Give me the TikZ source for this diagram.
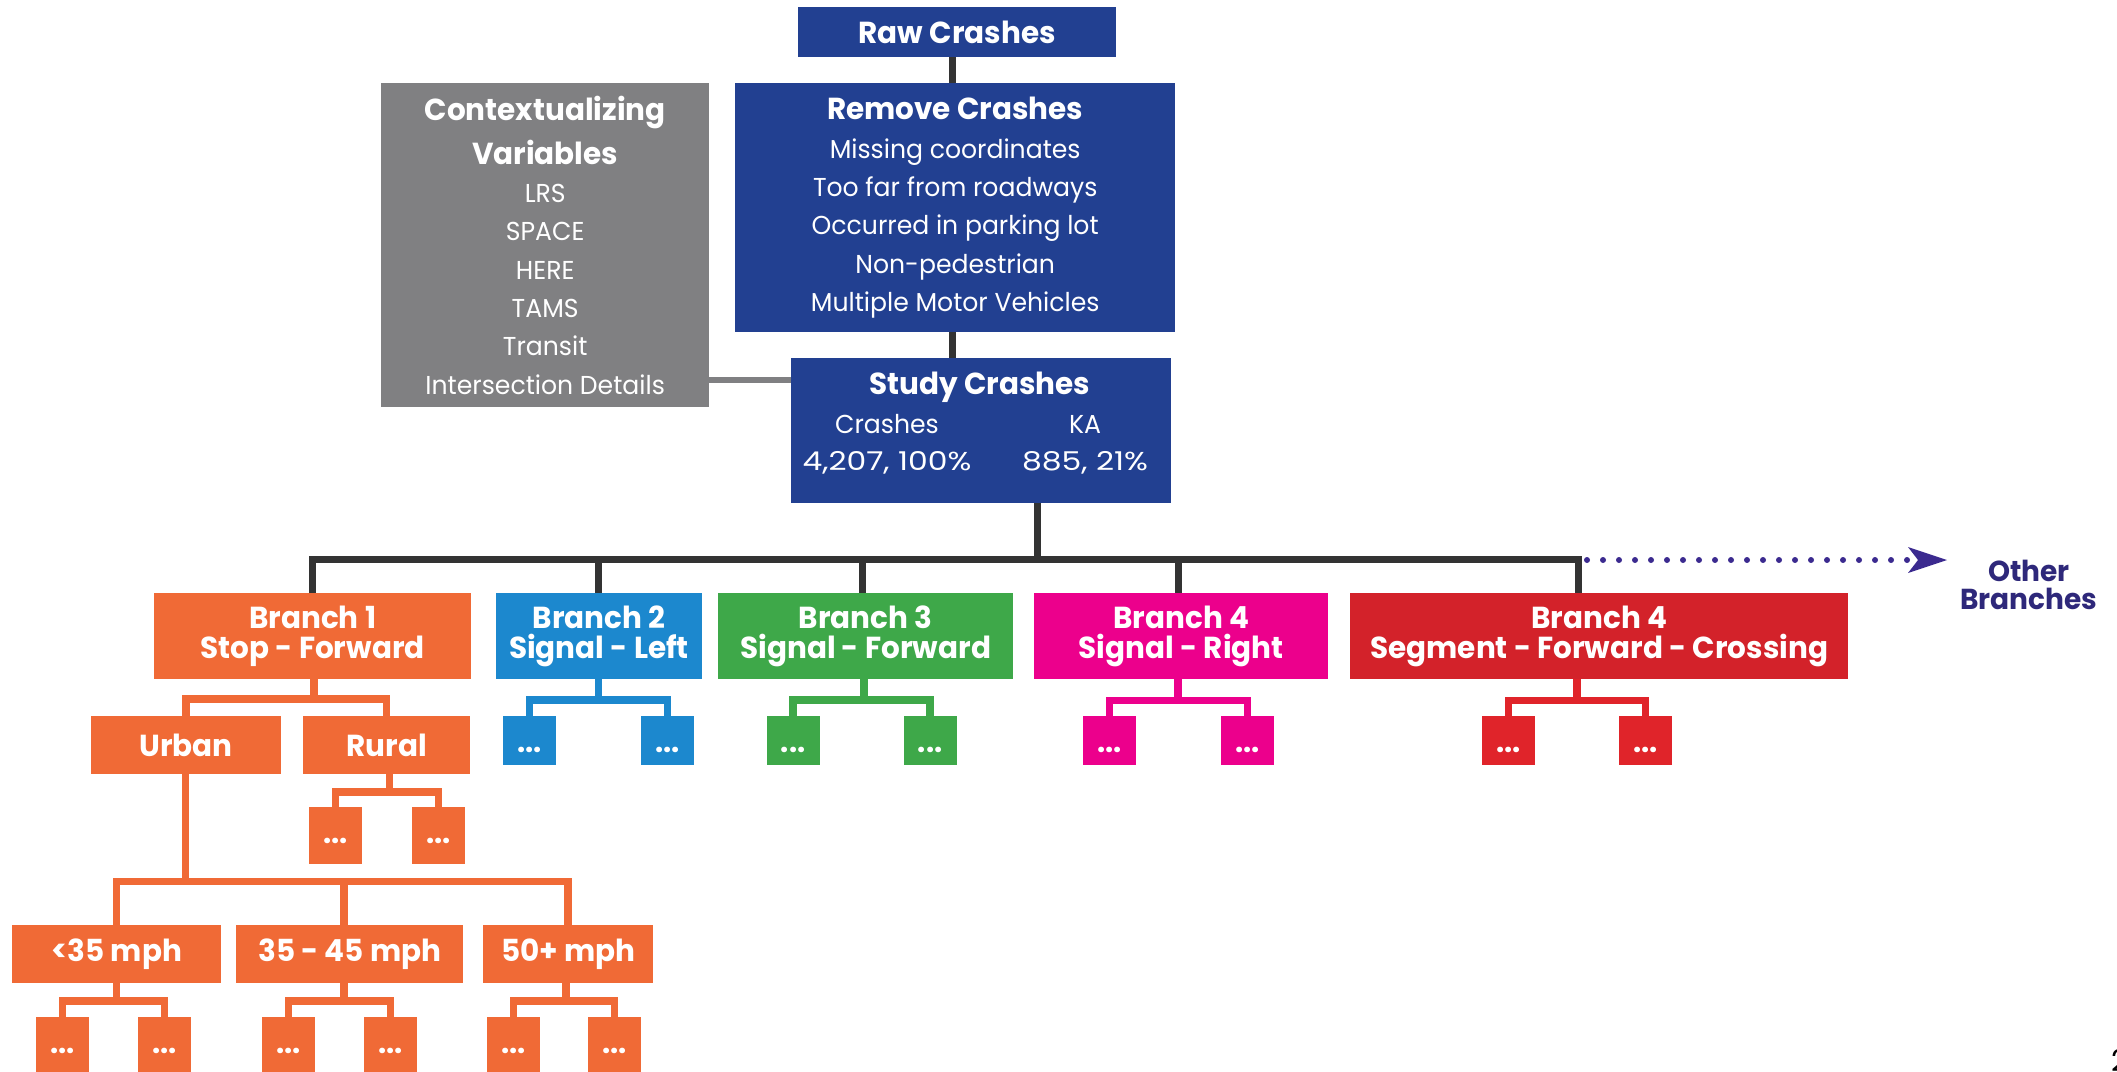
\documentclass[tikz,border=0pt]{standalone}
\usepackage{fontspec}
\usepackage{graphicx}
\setmainfont{Poppins}[FakeStretch=0.97]
\usetikzlibrary{arrows.meta,calc}
\definecolor{navy}{RGB}{34,64,145}
\definecolor{gbox}{RGB}{128,128,130}
\definecolor{orng}{RGB}{240,106,54}
\definecolor{bblue}{RGB}{28,136,206}
\definecolor{bgreen}{RGB}{62,168,73}
\definecolor{bpink}{RGB}{236,0,140}
\definecolor{bred}{RGB}{211,34,42}
\definecolor{kred}{RGB}{224,36,42}
\definecolor{dline}{RGB}{51,51,51}
\definecolor{purp}{RGB}{59,42,143}
\definecolor{purptext}{RGB}{46,40,122}
\newcommand{\hdfont}{\fontsize{30.5}{30}\selectfont\bfseries}
\newcommand{\bdfont}{\fontsize{26}{38.5}\selectfont}
\begin{document}
\begin{tikzpicture}[x=1bp,y=-1bp,
  box/.style={fill=#1, inner sep=0pt, anchor=north west, text=white, align=center},
  sz/.style 2 args={minimum width=#1bp, minimum height=#2bp},
  hd/.style={font=\hdfont},
  bd/.style={font=\bdfont},
  kid/.style={box=#1, minimum width=53bp, minimum height=49bp, text height=24bp, text depth=0bp, font=\fontsize{30}{30}\selectfont\bfseries},
  dl/.style={draw=dline, line width=7bp},
  gl/.style={draw=gbox, line width=6.5bp},
  cl/.style={draw=#1, line width=7.5bp},
  txt/.style={inner sep=0pt, align=center}
]
\useasboundingbox (0,0) rectangle (2117,1071);

% top column
\node[box=navy, sz={318}{50}, hd] (raw) at (798,7) {Raw Crashes};
\node[box=navy, sz={440}{249}, bd] (remove) at (735,83)
  {{\hdfont Remove Crashes}\\Missing coordinates\\Too far from roadways\\Occurred in parking lot\\Non-pedestrian\\Multiple Motor Vehicles};
\node[box=gbox, sz={328}{324}, bd] (ctx) at (381,83)
  {{\hdfont Contextualizing}\\[5.5bp]{\hdfont Variables}\\LRS\\SPACE\\HERE\\TAMS\\Transit\\Intersection Details};
\node[box=navy, sz={380}{145}] (study) at (791,358) {};
\node[txt, hd, text=white] (studyT) at (980,387) {Study Crashes};
\node[txt, font=\fontsize{26}{37}\selectfont, text=white] (studyA) at (887,444.5) {Crashes\\\scalebox{1.25}[1]{4,207, 100\%}};
\node[txt, font=\fontsize{26}{37}\selectfont, text=white] (studyB) at (1085,444.5) {KA\\\scalebox{1.25}[1]{885, 21\%}};

\coordinate (rr) at (952,0);
\draw[dl] (raw.south -| rr) -- (remove.north -| rr);
\draw[dl] (remove.south -| rr) -- (study.north -| rr);
\coordinate (gj) at (750,380);
\draw[gl] (ctx.east |- gj) -- (study.west |- gj);

% branches
\node[box=orng, sz={317}{86}, hd] (b1) at (154,593) {Branch 1\\Stop - Forward};
\node[box=bblue, sz={206.5}{86}, hd] (b2) at (495.5,593) {Branch 2\\Signal - Left};
\node[box=bgreen, sz={295}{86}, hd] (b3) at (718,593) {Branch 3\\Signal - Forward};
\node[box=bpink, sz={294}{86}, hd] (b4) at (1034,593) {Branch 4\\Signal - Right};
\node[box=bred, sz={498}{86}, hd] (b5) at (1350,593) {Branch 4\\Segment - Forward - Crossing};

\coordinate (sx) at (1037,559.5);
\coordinate (d1) at (312.5,559.5);
\coordinate (d2) at (598,559.5);
\coordinate (d3) at (862.5,559.5);
\coordinate (d4) at (1178,559.5);
\coordinate (d5) at (1578,559.5);
\draw[dl] (study.south -| sx) -- (sx);
\draw[dl] (b1.north -| d1) -- (d1) -- (d5) -- (b5.north -| d5);
\draw[dl] (d2) -- (b2.north -| d2);
\draw[dl] (d3) -- (b3.north -| d3);
\draw[dl] (d4) -- (b4.north -| d4);

% other branches
\coordinate (dots0) at (1587,560);
\coordinate (arr) at (1947,560);
\node[txt, font=\fontsize{29}{28}\selectfont\bfseries, text=purptext] (other) at (2029,585) {Other\\Branches};
\draw[draw=purp, line width=6bp, line cap=round, dash pattern=on 0bp off 16bp,
  -{Stealth[length=39bp, width=26bp, inset=10bp, line width=0pt, fill=purp]}] (dots0) -- (arr);

% branch 1 subtree
\node[box=orng, sz={190}{58}, hd] (urban) at (91,716) {Urban};
\node[box=orng, sz={167}{58}, hd] (rural) at (303,716) {Rural};
\coordinate (j1) at (314,699);
\draw[cl=orng] (b1.south -| j1) -- (j1);
\draw[cl=orng] (urban.north) |- (j1) -| (rural.north);

\node[kid=orng, minimum height=57bp, text height=16bp] (rk1) at (309,807) {...};
\node[kid=orng, minimum height=57bp, text height=16bp] (rk2) at (412,807) {...};
\coordinate (jR) at (389.5,792);
\draw[cl=orng] (rural.south -| jR) -- (jR);
\draw[cl=orng] (rk1.north) |- (jR) -| (rk2.north);

\node[box=orng, sz={209}{58}, hd] (s1) at (12,925) {<35 mph};
\node[box=orng, sz={227}{58}, hd] (s2) at (236,925) {35 - 45 mph};
\node[box=orng, sz={170}{58}, hd] (s3) at (483,925) {50+ mph};
\coordinate (jU) at (185.5,881.5);
\coordinate (m2) at (344,881.5);
\draw[cl=orng] (urban.south -| jU) -- (jU);
\draw[cl=orng] (s1.north) |- (jU) -| (s3.north);
\draw[cl=orng] (m2) -- (s2.north -| m2);

\node[kid=orng, minimum height=60bp, text height=13bp] (s1k1) at (36,1017) {...};
\node[kid=orng, minimum height=60bp, text height=13bp] (s1k2) at (138,1017) {...};
\node[kid=orng, minimum height=60bp, text height=13bp] (s2k1) at (262,1017) {...};
\node[kid=orng, minimum height=60bp, text height=13bp] (s2k2) at (364,1017) {...};
\node[kid=orng, minimum height=60bp, text height=13bp] (s3k1) at (487,1017) {...};
\node[kid=orng, minimum height=60bp, text height=13bp] (s3k2) at (588,1017) {...};
\coordinate (jS1) at (116.5,1001);
\coordinate (jS2) at (344,1001);
\coordinate (jS3) at (566,1001);
\draw[cl=orng] (s1.south -| jS1) -- (jS1);
\draw[cl=orng] (s1k1.north) |- (jS1) -| (s1k2.north);
\draw[cl=orng] (s2.south -| jS2) -- (jS2);
\draw[cl=orng] (s2k1.north) |- (jS2) -| (s2k2.north);
\draw[cl=orng] (s3.south -| jS3) -- (jS3);
\draw[cl=orng] (s3k1.north) |- (jS3) -| (s3k2.north);

% other branch children
\node[kid=bblue] (b2k1) at (503,716) {...};
\node[kid=bblue] (b2k2) at (641,716) {...};
\coordinate (j2) at (598.5,700);
\draw[cl=bblue] (b2.south -| j2) -- (j2);
\draw[cl=bblue] (b2k1.north) |- (j2) -| (b2k2.north);

\node[kid=bgreen] (b3k1) at (766.5,716) {...};
\node[kid=bgreen] (b3k2) at (903.5,716) {...};
\coordinate (j3) at (864,700);
\draw[cl=bgreen] (b3.south -| j3) -- (j3);
\draw[cl=bgreen] (b3k1.north) |- (j3) -| (b3k2.north);

\node[kid=bpink] (b4k1) at (1083,716) {...};
\node[kid=bpink] (b4k2) at (1221,716) {...};
\coordinate (j4) at (1178,700.5);
\draw[cl=bpink] (b4.south -| j4) -- (j4);
\draw[cl=bpink] (b4k1.north) |- (j4) -| (b4k2.north);

\node[kid=kred] (b5k1) at (1482,716) {...};
\node[kid=kred] (b5k2) at (1619,716) {...};
\coordinate (j5) at (1577,700.5);
\draw[cl=kred] (b5.south -| j5) -- (j5);
\draw[cl=kred] (b5k1.north) |- (j5) -| (b5k2.north);

% page number (cut off)
\node[inner sep=0pt, anchor=north west, font=\fontsize{30}{30}\selectfont] (pg) at (2111,1049) {2};
\end{tikzpicture}
\end{document}
